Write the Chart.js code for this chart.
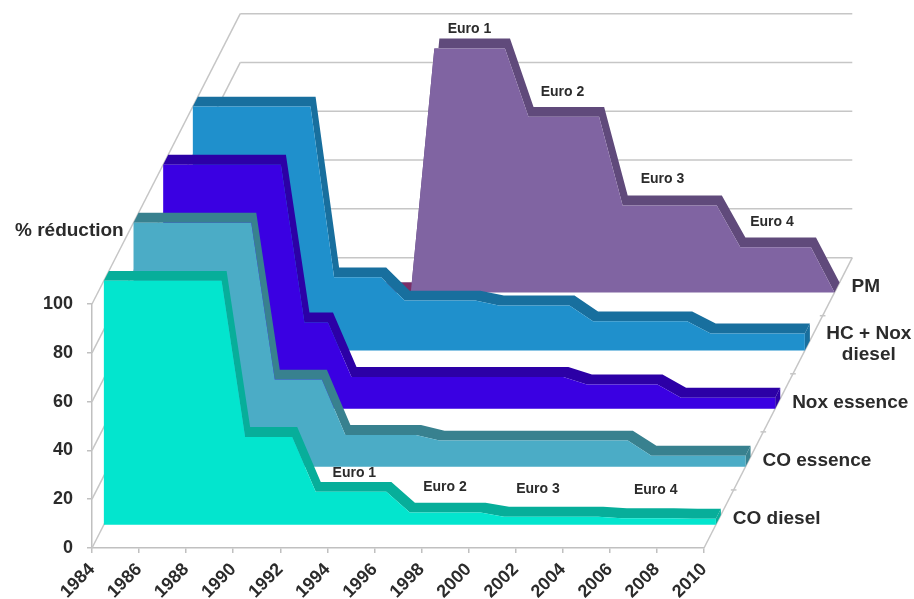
<!DOCTYPE html>
<html lang="fr">
<head>
<meta charset="utf-8">
<title>Normes Euro</title>
<style>
html,body{margin:0;padding:0;background:#fff;overflow:hidden}
canvas{display:block}
</style>
<script src="https://cdn.jsdelivr.net/npm/chart.js@4"></script>
</head>
<body>
<canvas id="c" width="914" height="599"></canvas>
<script>
// Emission limits, as % reduction, one value per year from 1984 to 2010
const years = [1984,1985,1986,1987,1988,1989,1990,1991,1992,1993,1994,1995,1996,1997,1998,1999,2000,2001,2002,2003,2004,2005,2006,2007,2008,2009,2010];
const coDiesel   = [100,100,100,100,100,100,36,36,36,13.5,13.5,13.5,13.5,5,5,5,5,3.3,3.3,3.3,3.3,3.3,2.7,2.7,2.7,2.5,2.5];
const coEssence  = [100,100,100,100,100,100,35.7,35.7,35.7,13,13,13,13,10.7,10.7,10.7,10.7,10.7,10.7,10.7,10.7,10.7,4.5,4.5,4.5,4.5,4.5];
const noxEssence = [100,100,100,100,100,100,35.3,35.3,13,13,13,13,13,13,13,13,13,13,9.9,9.9,9.9,9.9,4.5,4.5,4.5,4.5,4.5];
const hcNoxDiesel= [100,100,100,100,100,100,30,30,30,20.5,20.5,20.5,20.5,18.5,18.5,18.5,18.5,12,12,12,12,12,7,7,7,7,7];
const pm         = [0,0,0,0,0,0,0,0,0,100,100,100,100,72,72,72,72,35.7,35.7,35.7,35.7,35.7,18.5,18.5,18.5,18.5,0];

const seriesNames = [["CO diesel"],["CO essence"],["Nox essence"],["HC + Nox","diesel"],["PM"]];
const seriesValues = [coDiesel, coEssence, noxEssence, hcNoxDiesel, pm];
const faceColours = ["#03E5CE","#4BACC6","#3A00E2","#1F90CC","#8064A2"];
const ribColours  = ["#07AE9A","#38818F","#2C00A6","#186F9E","#604A7B"];
const wallValues = [0,20,40,60,80,100];

const euroNames = ["Euro 1","Euro 2","Euro 3","Euro 4"];
const euroYearsBack = [1994.45,1998.4,2002.65,2007.3];
const euroValuesBack = [108.6,82.8,47,29.5];
const euroYearsFront = [1994.6,1998.45,2002.4,2007.4];
const euroValuesFront = [21.2,15.5,14.7,14.3];

// Oblique projection: one depth slot shifts a point right and up, in data units
const SLOTS = 5;
const SLOT_YEARS = 1.26;
const SLOT_VALUE = 23.8;
const FACE_DEPTH = 0.4;
const RIB_DEPTH = 0.17;
const project = (year, value, depth) => ({x: year + depth * SLOT_YEARS, y: value + depth * SLOT_VALUE});

const first = years[0], last = years[years.length - 1];

function faceShape(values, slot) {
  const d = slot + FACE_DEPTH;
  const top = years.map((y, i) => project(y, values[i], d));
  return [...top, project(last, 0, d), project(first, 0, d)];
}
function ribShape(values, slot, from = 0, to = years.length - 1) {
  const d = slot + FACE_DEPTH;
  const front = [], back = [];
  for (let i = from; i <= to; i++) {
    front.push(project(years[i], values[i], d));
    back.unshift(project(years[i], values[i], d + RIB_DEPTH));
  }
  return [...front, ...back];
}
function sideShape(values, slot) {
  const d = slot + FACE_DEPTH, v = values[values.length - 1];
  return [project(last, v, d), project(last, v, d + RIB_DEPTH), project(last, 0, d + RIB_DEPTH), project(last, 0, d)];
}

const shape = (data, colour) => ({data, backgroundColor: colour, isShape: true, borderWidth: 0, showLine: true, pointRadius: 0, clip: false});
const rule = (data) => ({data, borderColor: "#c6c6c6", borderWidth: 1.5, showLine: true, pointRadius: 0, clip: false});

// Listed back to front, then reversed because Chart.js paints the first dataset last
const layers = [];
wallValues.forEach(v => {
  layers.push(rule([project(last, v, SLOTS), project(first, v, SLOTS)]));
  layers.push(rule([project(first, v, SLOTS), project(first, v, 0)]));
});
layers.push(rule([project(last, 0, SLOTS), project(last, 0, 0)]));
for (let j = 1; j < SLOTS; j++) {
  layers.push(rule([project(last + 0.12, 0, j), project(last - 0.12, 0, j)]));
}
for (let k = SLOTS - 1; k >= 0; k--) {
  const values = seriesValues[k];
  layers.push(shape(ribShape(values, k), ribColours[k]));
  if (k === 4) layers.push(shape(ribShape(values, k, 0, 8), "#7A2F68"));
  layers.push(shape(sideShape(values, k), ribColours[k]));
  layers.push(shape(faceShape(values, k), faceColours[k]));
}

// The area shapes spill past the plot rectangle, so they are filled here without its clip
const shapeFill = {
  id: "shapeFill",
  beforeDatasetDraw(chart, args) {
    const ds = chart.data.datasets[args.index];
    if (!ds.isShape) return;
    const pts = args.meta.data, ctx = chart.ctx;
    ctx.save();
    ctx.beginPath();
    pts.forEach((p, i) => i ? ctx.lineTo(p.x, p.y) : ctx.moveTo(p.x, p.y));
    ctx.closePath();
    ctx.fillStyle = ds.backgroundColor;
    ctx.fill();
    ctx.restore();
  }
};

// Series names on the depth axis, plus the Euro stage captions
const captions = {
  id: "captions",
  afterDraw(chart) {
    const {ctx, scales: {x, y}} = chart;
    const at = (year, value, depth) => {
      const p = project(year, value, depth);
      return [x.getPixelForValue(p.x), y.getPixelForValue(p.y)];
    };
    ctx.save();
    ctx.fillStyle = "#2b2b2b";
    ctx.textBaseline = "middle";
    ctx.font = 'bold 19px "Liberation Sans", Arial, sans-serif';
    seriesNames.forEach((lines, k) => {
      const [px, py] = at(last, 0, k + 0.5);
      if (lines.length > 1) {
        ctx.textAlign = "center";
        ctx.fillText(lines[0], px + 61, py - 11);
        ctx.fillText(lines[1], px + 61, py + 10);
      } else {
        ctx.textAlign = "left";
        ctx.fillText(lines[0], px + 14, py);
      }
    });
    ctx.textAlign = "left";
    ctx.font = 'bold 19px "Liberation Sans", Arial, sans-serif';
    ctx.fillText("% réduction", 15, 231);
    ctx.textAlign = "center";
    ctx.font = 'bold 14px "Liberation Sans", Arial, sans-serif';
    euroNames.forEach((name, i) => {
      const [bx, by] = at(euroYearsBack[i], euroValuesBack[i], 4 + FACE_DEPTH);
      ctx.fillText(name, bx + 1, by + 1.5);
      const [fx, fy] = at(euroYearsFront[i], euroValuesFront[i], FACE_DEPTH);
      ctx.fillText(name, fx + 1, fy + 0.5);
    });
    ctx.restore();
  }
};

new Chart(document.getElementById("c"), {
  type: "scatter",
  data: {datasets: layers.reverse()},
  plugins: [shapeFill, captions],
  options: {
    responsive: false,
    animation: false,
    events: [],
    layout: {padding: {top: 304, right: 210, left: 0, bottom: 0}},
    plugins: {legend: {display: false}, tooltip: {enabled: false}},
    scales: {
      x: {
        type: "linear",
        min: first,
        max: last,
        afterFit(s) { s.height = 51; },
        border: {color: "#c0c0c0", width: 1.5},
        grid: {drawOnChartArea: false, drawTicks: true, tickLength: 5, color: "#c0c0c0", lineWidth: 1.5},
        ticks: {
          stepSize: 2, autoSkip: false, minRotation: 45, maxRotation: 45, padding: 6, color: "#2b2b2b",
          font: {family: '"Liberation Sans", Arial, sans-serif', size: 18, weight: "bold"},
          callback: v => String(v)
        }
      },
      y: {
        type: "linear",
        min: 0,
        max: 100,
        afterFit(s) { s.width = 92; },
        border: {color: "#c0c0c0", width: 1.5},
        grid: {drawOnChartArea: false, drawTicks: true, tickLength: 5, color: "#c0c0c0", lineWidth: 1.5},
        ticks: {
          stepSize: 20, padding: 14, color: "#2b2b2b",
          font: {family: '"Liberation Sans", Arial, sans-serif', size: 18, weight: "bold"}
        }
      }
    }
  }
});
</script>
</body>
</html>
